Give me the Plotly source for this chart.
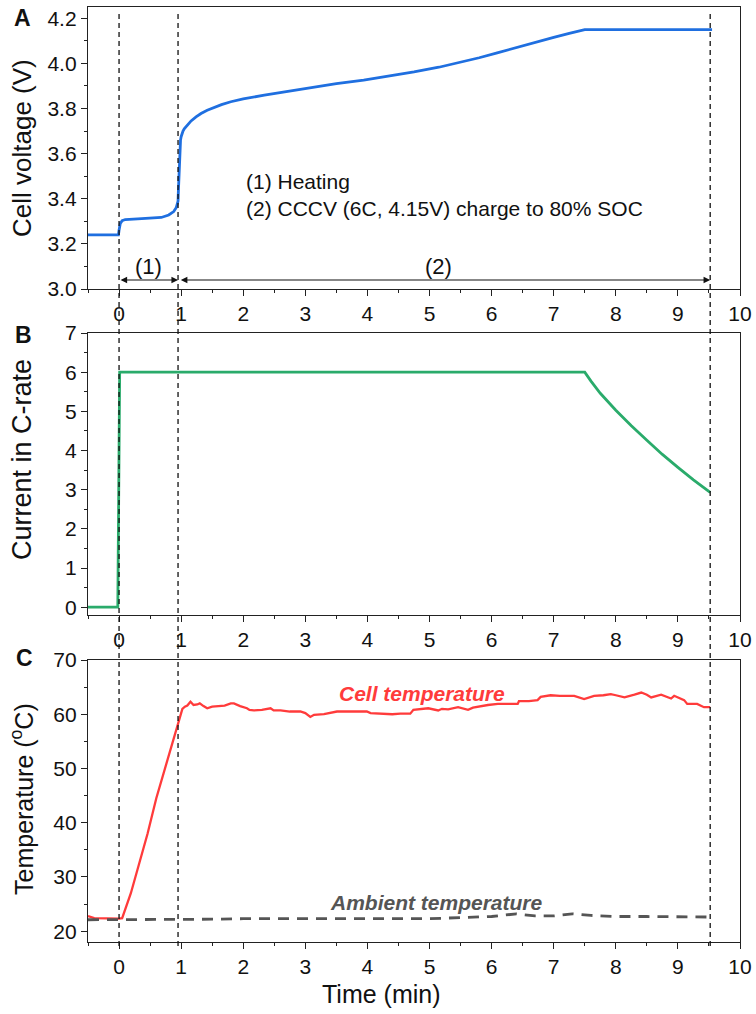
import plotly.graph_objects as go

# ---- Panel A: cell voltage (V) vs time (min) ----
volt_t = [-0.5, -0.01, 0.0, 0.02, 0.05, 0.1, 0.3, 0.5, 0.68, 0.8, 0.84, 0.88, 0.92, 0.95,
          0.955, 0.96, 0.965, 0.97, 0.975, 0.98, 0.99, 1.0, 1.015, 1.03, 1.05, 1.08, 1.12,
          1.16, 1.24, 1.32, 1.42, 1.53, 1.65, 1.8, 2.0, 2.34, 2.7, 3.14, 3.5, 3.94, 4.35,
          4.75, 5.15, 5.55, 5.8, 6.09, 6.35, 6.62, 7.0, 7.25, 7.5, 8.0, 9.0, 9.55]
volt_v = [3.24, 3.24, 3.26, 3.29, 3.303, 3.308, 3.311, 3.314, 3.317, 3.328, 3.335, 3.343, 3.36, 3.39,
          3.43, 3.48, 3.53, 3.575, 3.61, 3.635, 3.66, 3.675, 3.69, 3.70, 3.71, 3.72, 3.732,
          3.745, 3.763, 3.778, 3.792, 3.805, 3.817, 3.83, 3.843, 3.859, 3.875, 3.896, 3.91, 3.926, 3.943,
          3.962, 3.983, 4.007, 4.025, 4.047, 4.067, 4.088, 4.115, 4.133, 4.15, 4.15, 4.15, 4.15]

# ---- Panel B: current in C-rate ----
curr_t = [-0.5, -0.02, 0.01, 7.5, 7.6, 7.75, 8.0, 8.25, 8.5, 8.75, 9.0, 9.25, 9.52]
curr_c = [0, 0, 6, 6, 5.77, 5.46, 5.03, 4.63, 4.26, 3.9, 3.57, 3.25, 2.93]

# ---- Panel C: cell and ambient temperature (degC) ----
cell_t = [-0.5, -0.45, -0.4, 0.0, 0.05, 0.19, 0.46, 0.6, 0.78, 0.94, 1.02, 1.06, 1.1, 1.15,
          1.2, 1.26, 1.3, 1.36, 1.42, 1.5, 1.58, 1.7, 1.8, 1.85, 1.95, 2.06, 2.1, 2.17, 2.3,
          2.44, 2.49, 2.6, 2.75, 2.92, 3.0, 3.08, 3.14, 3.3, 3.51, 3.7, 3.99, 4.05, 4.2, 4.4,
          4.53, 4.69, 4.74, 4.98, 5.14, 5.2, 5.3, 5.46, 5.62, 5.7, 5.94, 6.1, 6.42, 6.44, 6.6,
          6.74, 6.79, 6.95, 7.1, 7.33, 7.49, 7.65, 7.8, 7.92, 8.0, 8.14, 8.3, 8.41, 8.5, 8.57,
          8.73, 8.89, 8.94, 9.02, 9.1, 9.15, 9.31, 9.42, 9.52]
cell_temp = [22.8, 22.6, 22.4, 22.3, 22.4, 27.0, 38.0, 44.5, 51.5, 57.7, 61.0, 61.4, 61.6, 62.3,
             61.7, 61.8, 62.0, 61.5, 61.1, 61.4, 61.5, 61.6, 62.0, 62.0, 61.5, 61.1, 60.8, 60.7, 60.8,
             61.1, 60.7, 60.7, 60.5, 60.5, 60.2, 59.5, 59.9, 60.0, 60.5, 60.5, 60.5, 60.2, 60.1, 60.0,
             60.1, 60.1, 60.8, 61.1, 60.7, 61.0, 60.9, 61.3, 60.8, 61.2, 61.7, 61.9, 61.9, 62.4, 62.4,
             62.6, 63.2, 63.5, 63.4, 63.4, 62.8, 63.4, 63.5, 63.7, 63.5, 63.1, 63.6, 64.0, 63.6, 63.1,
             63.6, 62.9, 63.4, 63.0, 62.6, 61.9, 61.9, 61.3, 61.3]

amb_t = [-0.5, 0.5, 1.0, 1.5, 2.0, 2.5, 3.0, 3.5, 4.0, 4.5, 5.0, 5.5, 6.0, 6.4, 6.7, 7.0,
         7.3, 7.6, 8.0, 8.5, 9.0, 9.52]
amb_temp = [22.1, 22.1, 22.1, 22.2, 22.3, 22.3, 22.3, 22.3, 22.3, 22.4, 22.3, 22.5, 22.7, 23.2,
            22.8, 22.8, 23.2, 22.9, 22.7, 22.7, 22.6, 22.6]

# Phase boundaries (min)
phase_marks = [0.0, 0.95, 9.52]
x_ticks = list(range(0, 11))

FONT = "Arial, Liberation Sans, sans-serif"
INK = "#111111"
AXIS_COLOR = "#222222"

# Figure geometry (px) used to convert to paper coordinates
W, H = 756, 1014
ML, MR, MT, MB = 88, 16, 7, 72
PW, PH = W - ML - MR, H - MT - MB


def px_x(x):
    return (x - ML) / PW


def px_y(y):
    return (H - MB - y) / PH


fig = go.Figure()
fig.add_trace(go.Scatter(x=volt_t, y=volt_v, mode="lines", line=dict(color="#1f6fe0", width=2.8),
                         xaxis="x", yaxis="y", showlegend=False))
fig.add_trace(go.Scatter(x=curr_t, y=curr_c, mode="lines", line=dict(color="#2aab6b", width=2.8),
                         xaxis="x2", yaxis="y2", showlegend=False))
fig.add_trace(go.Scatter(x=cell_t, y=cell_temp, mode="lines", line=dict(color="#ff3b3b", width=2.3),
                         xaxis="x3", yaxis="y3", showlegend=False))
fig.add_trace(go.Scatter(x=amb_t, y=amb_temp, mode="lines",
                         line=dict(color="#555555", width=2.8, dash="11px,8px"),
                         xaxis="x3", yaxis="y3", showlegend=False))


def xax(anchor):
    return dict(anchor=anchor, range=[-0.5, 10], tickmode="array", tickvals=x_ticks,
                ticks="outside", ticklen=6, tickwidth=1.3, tickcolor=AXIS_COLOR,
                showline=True, linecolor=AXIS_COLOR, linewidth=1.3, mirror=True,
                showgrid=False, zeroline=False, automargin=False,
                minor=dict(dtick=0.5, tick0=0, ticks="outside", ticklen=3, tickwidth=1.2,
                           tickcolor=AXIS_COLOR),
                tickfont=dict(size=21, color=INK, family=FONT))


def yax(anchor, rng, dtick, mdtick, dom, fmt=None):
    d = dict(anchor=anchor, range=rng, dtick=dtick, tick0=0, ticks="outside", ticklen=6,
             tickwidth=1.3, tickcolor=AXIS_COLOR, showline=True, linecolor=AXIS_COLOR,
             linewidth=1.3, mirror=True, showgrid=False, zeroline=False, domain=dom,
             automargin=False,
             minor=dict(dtick=mdtick, ticks="outside", ticklen=3, tickwidth=1.2, tickcolor=AXIS_COLOR),
             tickfont=dict(size=21, color=INK, family=FONT))
    if fmt:
        d["tickformat"] = fmt
    return d


fig.update_layout(
    width=W, height=H,
    margin=dict(l=ML, r=MR, t=MT, b=MB),
    paper_bgcolor="white", plot_bgcolor="white",
    font=dict(family=FONT, color=INK),
    xaxis=xax("y"), xaxis2=xax("y2"), xaxis3=xax("y3"),
    yaxis=yax("x", [3.0, 4.25], 0.2, 0.1, [px_y(289), 1.0], ".1f"),
    yaxis2=yax("x2", [-0.2, 7], 1, 0.5, [px_y(615), px_y(333)]),
    yaxis3=yax("x3", [18, 70], 10, 5, [0.0, px_y(660)]),
)

# Axis titles
y_titles = [("Cell voltage (V)", 148, 26), ("Current in C-rate", 460, 27),
            ("Temperature (<sup>o</sup>C)", 799, 25)]
for text, ycen, size in y_titles:
    fig.add_annotation(x=px_x(22), y=px_y(ycen), xref="paper", yref="paper", text=text,
                       textangle=-90, showarrow=False, xanchor="center", yanchor="middle",
                       font=dict(size=size, color=INK, family=FONT))
fig.add_annotation(x=px_x(381), y=px_y(994), xref="paper", yref="paper", text="Time (min)",
                   showarrow=False, xanchor="center", yanchor="middle",
                   font=dict(size=25, color=INK, family=FONT))

# Dashed phase-boundary lines across all panels
for xm in phase_marks:
    fig.add_shape(type="line", xref="x", yref="paper", x0=xm, x1=xm, y0=px_y(946), y1=px_y(13),
                  line=dict(color=INK, width=1.3, dash="5px,4px"), layer="above")

# Phase arrows in panel A
arrow_y = 3.04
for x0, x1 in [(0.0, 0.95), (0.97, 9.52)]:
    fig.add_annotation(x=x1, y=arrow_y, ax=x0, ay=arrow_y, xref="x", yref="y", axref="x", ayref="y",
                       text="", showarrow=True, arrowhead=2, arrowsize=1.2, arrowwidth=1.1,
                       arrowside="end+start", arrowcolor=INK)
fig.add_annotation(x=0.48, y=3.10, xref="x", yref="y", text="(1)", showarrow=False,
                   font=dict(size=22, color=INK, family=FONT))
fig.add_annotation(x=5.14, y=3.10, xref="x", yref="y", text="(2)", showarrow=False,
                   font=dict(size=22, color=INK, family=FONT))

fig.add_annotation(x=2.02, y=3.416, xref="x", yref="y", xanchor="left", yanchor="middle", align="left",
                   text="(1) Heating<br>(2) CCCV (6C, 4.15V) charge to 80% SOC", showarrow=False,
                   font=dict(size=21, color=INK, family=FONT))

# Curve labels in panel C
fig.add_annotation(x=4.88, y=63.8, xref="x3", yref="y3", text="<b><i>Cell temperature</i></b>",
                   showarrow=False, font=dict(size=21, color="#ff3b3b", family=FONT))
fig.add_annotation(x=5.12, y=25.3, xref="x3", yref="y3", text="<b><i>Ambient temperature</i></b>",
                   showarrow=False, font=dict(size=21, color="#555555", family=FONT))

# Panel letters
for letter, xc, yc in [("A", 22, 18), ("B", 23, 335), ("C", 24, 658)]:
    fig.add_annotation(x=px_x(xc), y=px_y(yc), xref="paper", yref="paper", text=f"<b>{letter}</b>",
                       showarrow=False, xanchor="center", yanchor="middle",
                       font=dict(size=23, color=INK, family=FONT))

fig.write_html("out.html")
